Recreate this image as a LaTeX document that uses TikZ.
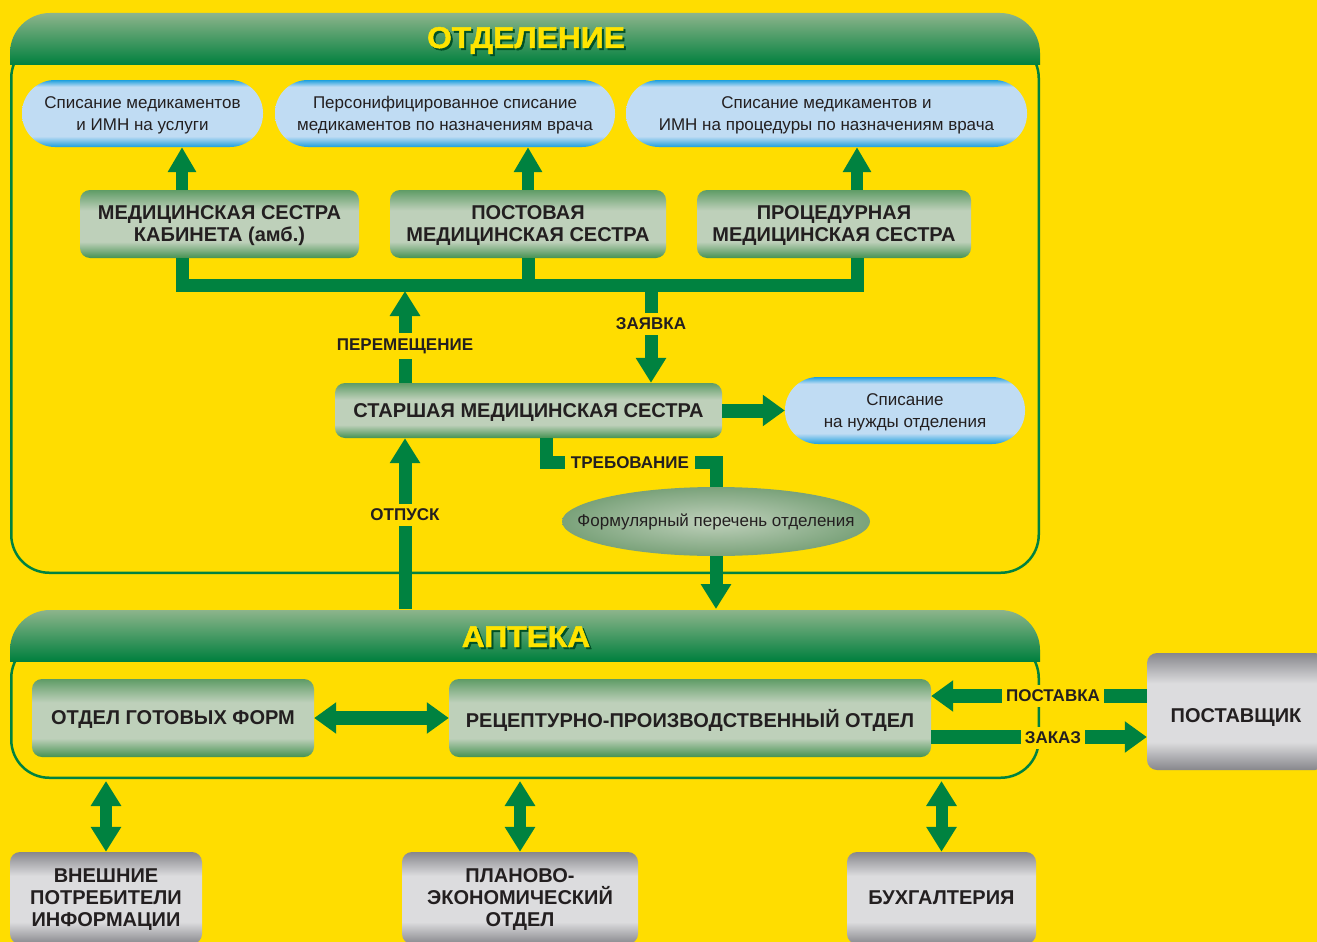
\documentclass[tikz,border=0pt]{standalone}
\usepackage{fontspec}
\setmainfont{Liberation Sans}
\newfontfamily\hdrfont[FakeStretch=1.06,FakeBold=1.6]{Liberation Sans Bold}
\usetikzlibrary{arrows.meta,shapes.geometric}
\definecolor{bgy}{RGB}{255,221,0}
\definecolor{agreen}{RGB}{0,130,64}
\definecolor{txt}{RGB}{35,31,32}
\definecolor{hdrtop}{RGB}{141,180,139}
\definecolor{hdrbot}{RGB}{0,128,62}
\definecolor{hdry}{RGB}{255,228,0}
\definecolor{hdrsh}{RGB}{0,80,38}
\definecolor{bdk}{RGB}{30,160,222}
\definecolor{blt}{RGB}{192,220,243}
\definecolor{gdk}{RGB}{95,156,102}
\definecolor{gdkb}{RGB}{70,146,82}
\definecolor{glt}{RGB}{190,208,186}
\definecolor{gyd}{RGB}{135,135,140}
\definecolor{gyl}{RGB}{220,220,222}
\definecolor{elin}{RGB}{192,209,188}
\definecolor{elout}{RGB}{122,162,122}
\pgfdeclareverticalshading{blueov}{100bp}{color(0bp)=(bdk); color(25bp)=(bdk); color(33bp)=(blt); color(70bp)=(blt); color(75bp)=(bdk); color(100bp)=(bdk)}
\pgfdeclareverticalshading{gbx}{100bp}{color(0bp)=(gdkb); color(25bp)=(gdkb); color(37bp)=(glt); color(60bp)=(glt); color(75bp)=(gdk); color(100bp)=(gdk)}
\pgfdeclareverticalshading{gyb}{100bp}{color(0bp)=(gyd); color(25bp)=(gyd); color(37bp)=(gyl); color(62bp)=(gyl); color(75bp)=(gyd); color(100bp)=(gyd)}
\tikzset{
  gbox/.style={shade, shading=gbx, rounded corners=10pt, minimum height=68pt, align=center, text=txt, inner sep=0pt, text depth=0pt, font=\bfseries\fontsize{20}{22}\selectfont},
  bov/.style={shade, shading=blueov, rounded corners=33pt, minimum height=67pt, align=center, text=txt, inner sep=0pt, text depth=0pt, font=\fontsize{17}{22}\selectfont},
  gybox/.style={shade, shading=gyb, rounded corners=10pt, align=center, text=txt, inner sep=0pt, text depth=0pt, font=\bfseries\fontsize{20}{22}\selectfont},
  lbl/.style={fill=bgy, text=txt, inner xsep=5pt, inner ysep=5pt, font=\bfseries\fontsize{17}{20}\selectfont},
  hdr/.style={text=hdry, anchor=base, inner sep=0pt, font=\hdrfont\fontsize{30}{32}\selectfont},
  hdrs/.style={hdr, text=hdrsh},
  arr/.style={draw=agreen, line width=13pt, -{Triangle[width=29pt,length=25pt]}},
  arrs/.style={draw=agreen, line width=12pt, -{Triangle[width=27pt,length=25pt]}},
  arrw/.style={draw=agreen, line width=14pt, -{Triangle[width=30pt,length=22pt]}},
  darrh/.style={draw=agreen, line width=14pt, {Triangle[width=30pt,length=22pt]}-{Triangle[width=30pt,length=22pt]}},
  darrv/.style={draw=agreen, line width=12pt, {Triangle[width=29pt,length=25pt]}-{Triangle[width=29pt,length=25pt]}},
  bus/.style={draw=agreen, line width=13pt, line join=miter},
  frame/.style={draw=agreen, line width=2.5pt},
}
\begin{document}
\begin{tikzpicture}[x=1pt,y=-1pt]
\useasboundingbox (0,0) rectangle (1317,942);
\fill[bgy] (0,0) rectangle (1317,942);
\clip (0,0) rectangle (1317,942);

% ---- frame ОТДЕЛЕНИЕ
\draw[frame, rounded corners=38pt] (11.25,40) rectangle (1038.75,572.75);
\begin{scope}
  \clip (0,0) rectangle (1317,65);
  \shade[top color=hdrtop, bottom color=hdrbot, middle color=hdrbot, rounded corners=40pt] (10,13) rectangle (1040,117);
\end{scope}
\node[hdrs] (hotds) at (528,50) {ОТДЕЛЕНИЕ};
\node[hdr] (hotd) at (526,48) {ОТДЕЛЕНИЕ};

% ---- frame АПТЕКА
\draw[frame, rounded corners=38pt] (11.25,640) rectangle (1038.75,777.75);
\begin{scope}
  \clip (0,0) rectangle (1317,661);
  \shade[top color=hdrtop, bottom color=hdrbot, middle color=hdrbot, rounded corners=40pt] (10,610) rectangle (1040,712);
\end{scope}
\node[hdrs] (hapts) at (528,649) {АПТЕКА};
\node[hdr] (hapt) at (526,647) {АПТЕКА};

% ---- nodes
\node[bov, minimum width=241pt] (o1) at (142.5,113.5) {Списание медикаментов\\и ИМН на услуги};
\node[bov, minimum width=340pt] (o2) at (445,113.5) {Персонифицированное списание\\медикаментов по назначениям врача};
\node[bov, minimum width=401pt] (o3) at (826.5,113.5) {Списание медикаментов и\\ИМН на процедуры по назначениям врача};
\node[gbox, minimum width=279pt] (b1) at (219.5,224) {МЕДИЦИНСКАЯ СЕСТРА\\КАБИНЕТА (амб.)};
\node[gbox, minimum width=276pt] (b2) at (528,224) {ПОСТОВАЯ\\МЕДИЦИНСКАЯ СЕСТРА};
\node[gbox, minimum width=274pt] (b3) at (834,224) {ПРОЦЕДУРНАЯ\\МЕДИЦИНСКАЯ СЕСТРА};
\node[gbox, minimum width=387pt, minimum height=55pt] (sn) at (528.5,410.5) {СТАРШАЯ МЕДИЦИНСКАЯ СЕСТРА};
\node[bov, minimum width=240pt] (o4) at (905,410.5) {Списание\\на нужды отделения};
\node[ellipse, shade, inner color=elin, outer color=elout, minimum width=308pt, minimum height=69pt, inner sep=0pt, text=txt, font=\fontsize{17}{20}\selectfont] (fl) at (716,521.5) {\makebox[0pt]{Формулярный перечень отделения}};
\node[gbox, minimum width=282pt, minimum height=78pt] (ogf) at (173,718) {ОТДЕЛ ГОТОВЫХ ФОРМ};
\node[gbox, minimum width=482pt, minimum height=78pt] (rpo) at (690,718) {РЕЦЕПТУРНО-ПРОИЗВОДСТВЕННЫЙ ОТДЕЛ};
\node[gybox, minimum width=178pt, minimum height=117pt, text height=22pt] (pst) at (1236,711.5) {ПОСТАВЩИК};
\node[gybox, minimum width=192pt, minimum height=92pt] (ext) at (106,898) {ВНЕШНИЕ\\ПОТРЕБИТЕЛИ\\ИНФОРМАЦИИ};
\node[gybox, minimum width=236pt, minimum height=92pt] (pl) at (520,898) {ПЛАНОВО-\\ЭКОНОМИЧЕСКИЙ\\ОТДЕЛ};
\node[gybox, minimum width=189pt, minimum height=92pt] (bux) at (941.5,898) {БУХГАЛТЕРИЯ};

% ---- coordinates
\coordinate (c1) at (182,0);
\coordinate (c2) at (528,0);
\coordinate (c3) at (857,0);
\coordinate (cp) at (405,0);
\coordinate (cz) at (651,0);
\coordinate (ct1) at (546,0);
\coordinate (ct2) at (716,0);
\coordinate (busL) at (182,285);
\coordinate (busR) at (857,285);
\coordinate (busB) at (0,291);
\coordinate (treb) at (0,462);
\coordinate (aptop) at (0,609);
\coordinate (apbot) at (0,781);
\coordinate (yp) at (0,696);
\coordinate (yz) at (0,737);

% ---- connectors
\draw[arrs] (b1.north -| c1) -- (o1.south -| c1);
\draw[arrs] (b2.north -| c2) -- (o2.south -| c2);
\draw[arrs] (b3.north -| c3) -- (o3.south -| c3);
\draw[bus] (b1.south -| c1) -- (busL) -- (busR) -- (b3.south -| c3);
\draw[bus] (b2.south -| c2) -- (c2 |- busL);
\draw[arr] (sn.north -| cp) -- (cp |- busB);
\draw[arr] (cz |- busL) -- (sn.north -| cz);
\draw[arrw] (sn.east) -- (o4.west);
\draw[bus] (sn.south -| ct1) -- (ct1 |- treb) -- (ct2 |- treb) -- (fl.north);
\draw[arr] (fl.south) -- (fl.south |- aptop);
\draw[arr] (cp |- aptop) -- (sn.south -| cp);
\draw[darrh] (ogf.east) -- (rpo.west);
\draw[arrw] (pst.west |- yp) -- (rpo.east |- yp);
\draw[arrw] (rpo.east |- yz) -- (pst.west |- yz);
\draw[darrv] (ext.north) -- (ext.north |- apbot);
\draw[darrv] (pl.north) -- (pl.north |- apbot);
\draw[darrv] (bux.north) -- (bux.north |- apbot);

% ---- labels
\node[lbl] (lperem) at (405,346) {ПЕРЕМЕЩЕНИЕ};
\node[lbl] (lzay) at (651,324) {ЗАЯВКА};
\node[lbl, inner xsep=6pt] (ltreb) at (630,463) {ТРЕБОВАНИЕ};
\node[lbl] (lotp) at (405,515) {ОТПУСК};
\node[lbl, inner xsep=4pt] (lpost) at (1053,696) {ПОСТАВКА};
\node[lbl, inner xsep=4pt] (lzak) at (1053,738) {ЗАКАЗ};
\end{tikzpicture}
\end{document}
